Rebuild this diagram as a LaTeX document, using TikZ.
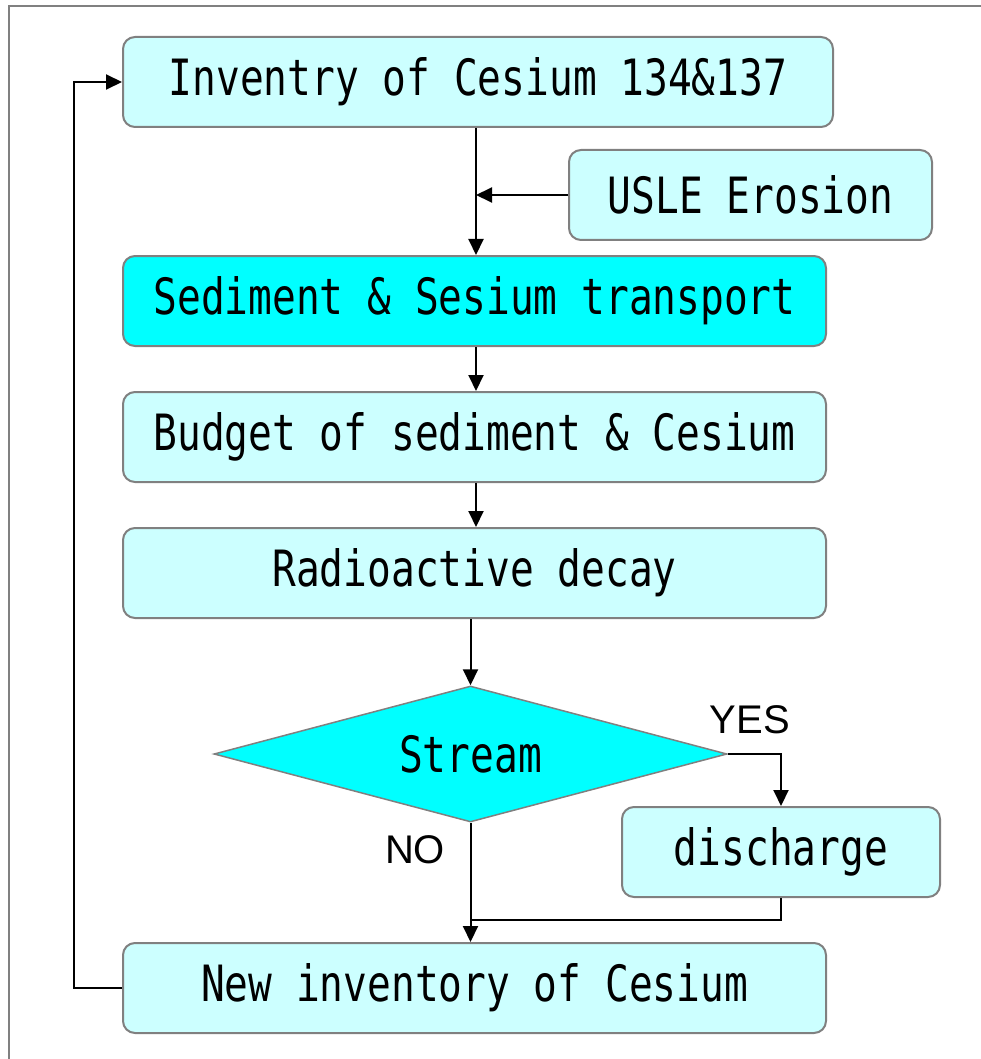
\documentclass[tikz,border=0pt]{standalone}
\usepackage{fontspec}
\setmainfont{Liberation Sans}
\newfontfamily\gothic[FakeStretch=0.79]{DejaVu Sans Mono}
\usetikzlibrary{shapes.geometric,arrows.meta}
\definecolor{lcyan}{HTML}{CCFFFF}
\definecolor{dcyan}{HTML}{00FFFF}
\definecolor{bord}{HTML}{808080}
\tikzset{
  box/.style={draw=bord, line width=2pt, rounded corners=12pt, fill=lcyan,
    minimum height=90pt, inner sep=0pt, font=\gothic\fontsize{50}{54}\selectfont},
  dbox/.style={box, fill=dcyan},
  dia/.style={diamond, draw=bord, line width=1.5pt, fill=dcyan, aspect=3.77,
    minimum width=513pt, minimum height=136pt, inner sep=0pt,
    font=\gothic\fontsize{50}{54}\selectfont},
  conn/.style={line width=2pt, draw=black},
  arr/.style={conn, -{Triangle[length=16pt,width=15pt]}},
  lbl/.style={font=\fontsize{40}{44}\selectfont, inner sep=0pt}
}
\begin{document}
\begin{tikzpicture}[x=1pt,y=-1pt]
\useasboundingbox (0,0) rectangle (980,1059);
\draw[bord, line width=2pt] (9,1070) -- (9,6) -- (990,6);

\node[box, minimum width=710pt] (inv) at (478,82) {Inventry of Cesium 134\&137};
\node[box, minimum width=363pt] (usle) at (750.5,195) {USLE Erosion};
\node[dbox, minimum width=703pt] (sed) at (474.5,301) {Sediment \& Sesium transport};
\node[box, minimum width=703pt] (bud) at (474.5,437) {Budget of sediment \& Cesium};
\node[box, minimum width=703pt] (rad) at (474.5,573) {Radioactive decay};
\node[dia] (str) at (470.5,754) {Stream};
\node[box, minimum width=318pt] (dis) at (781,852) {discharge};
\node[box, minimum width=703pt] (new) at (474.5,988) {New inventory of Cesium};

\node[lbl] (yes) at (750,720) {YES};
\node[lbl] (no) at (415,850) {NO};

\coordinate (j) at (476,195);
\coordinate (m) at (470.5,920);
\coordinate (lp) at (74,0);

\draw[conn] (inv.south -| j) -- (j);
\draw[arr] (j) -- (j |- sed.north);
\draw[arr] (usle.west) -- (j);
\draw[arr] (sed.south -| j) -- (j |- bud.north);
\draw[arr] (bud.south -| j) -- (j |- rad.north);
\draw[arr] (rad.south -| str.north) -- (str.north);
\draw[arr] (str.east) -| (dis.north);
\draw[arr] (str.south) -- (str.south |- new.north);
\draw[conn] (dis.south) |- (m);
\draw[arr] (new.west) -- (new.west -| lp) -- (inv.west -| lp) -- (inv.west);
\end{tikzpicture}
\end{document}
